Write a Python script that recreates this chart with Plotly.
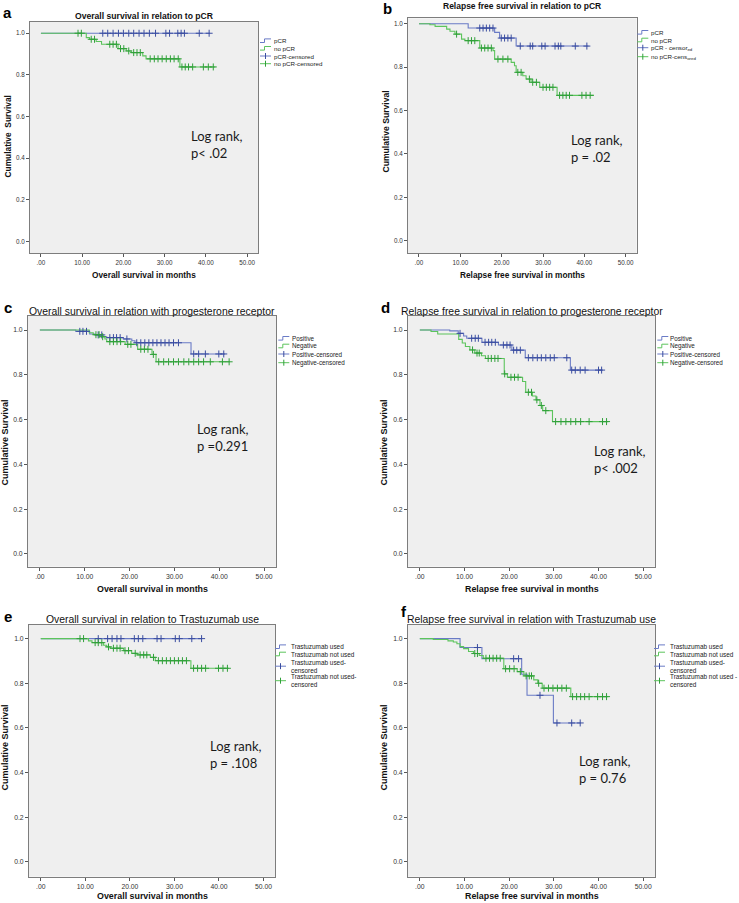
import numpy as np
import plotly.graph_objects as go

W, H = 739, 903

# ---------------- data ----------------
X_TICKS = [0, 10, 20, 30, 40, 50]
X_TICK_LABELS = [".00", "10.00", "20.00", "30.00", "40.00", "50.00"]
Y_TICKS = [0, 0.2, 0.4, 0.6, 0.8, 1.0]
Y_TICK_LABELS = ["0.0", "0.2", "0.4", "0.6", "0.8", "1.0"]

# (a) Overall survival vs pCR
A_PCR_T = []
A_PCR_S = []
A_PCR_CENS = [15.0, 16.2, 17.5, 18.8, 20.0, 21.3, 22.5, 23.8, 25.0, 26.3, 27.8,
              30.3, 31.2, 33.2, 34.0, 34.8, 38.4, 40.8]
A_PCR_END = 41.0
A_NOPCR_T = [11.0, 11.8, 13.4, 14.7, 18.7, 20.7, 21.9, 24.7, 25.5, 33.7]
A_NOPCR_S = [0.979, 0.971, 0.960, 0.947, 0.926, 0.915, 0.907, 0.891, 0.877, 0.838]
A_NOPCR_CENS = [9.0, 9.8, 12.2, 13.0, 16.7, 17.5, 18.3, 19.3, 20.1, 21.3, 22.5, 23.3,
                24.1, 26.5, 27.5, 28.4, 29.4, 30.4, 31.4, 32.3, 33.3, 34.2, 35.0,
                35.8, 36.8, 39.4, 40.6, 41.8]
A_NOPCR_END = 42.3

# (b) Relapse free survival vs pCR
B_PCR_T = [11.9, 18.3, 19.5, 23.5]
B_PCR_S = [0.980, 0.960, 0.934, 0.897]
B_PCR_CENS = [14.7, 15.5, 16.3, 17.1, 17.9, 19.9, 20.7, 21.5, 22.3, 24.5, 26.9, 27.5,
              29.7, 30.5, 32.9, 33.7, 34.3, 37.8, 40.6]
B_PCR_END = 41.0
B_NOPCR_T = [2.65, 3.9, 6.7, 7.5, 8.7, 10.3, 11.1, 14.7, 17.9, 18.3, 22.3, 23.1, 23.5,
             25.1, 25.9, 27.1, 29.2, 33.4]
B_NOPCR_S = [0.995, 0.988, 0.975, 0.965, 0.952, 0.929, 0.922, 0.888, 0.876, 0.837,
             0.822, 0.806, 0.776, 0.760, 0.745, 0.730, 0.707, 0.670]
B_NOPCR_CENS = [9.1, 11.9, 12.7, 13.5, 15.1, 15.9, 16.7, 17.5, 19.1, 20.3, 21.5, 23.9,
                24.7, 26.7, 27.5, 28.4, 30.0, 30.8, 31.6, 32.4, 34.0, 34.8, 35.6,
                36.4, 39.4, 40.4, 41.4]
B_NOPCR_END = 42.3

# (c) Overall survival vs progesterone receptor
C_POS_T = [8.0, 11.1, 12.3, 14.1, 14.9, 18.6, 20.5, 21.2, 33.7]
C_POS_S = [0.994, 0.982, 0.978, 0.970, 0.966, 0.960, 0.952, 0.943, 0.893]
C_POS_CENS = [8.9, 9.6, 10.4, 13.0, 13.8, 15.6, 16.4, 17.1, 17.9, 19.4, 21.6, 22.5,
              23.4, 24.3, 25.2, 26.1, 27.0, 27.9, 28.8, 29.8, 30.9, 34.3, 35.4,
              36.9, 39.9, 41.0]
C_POS_END = 41.3
C_NEG_T = [11.0, 11.9, 13.4, 14.5, 14.9, 19.0, 21.8, 25.0, 25.9]
C_NEG_S = [0.988, 0.979, 0.970, 0.960, 0.948, 0.936, 0.914, 0.891, 0.858]
C_NEG_CENS = [12.5, 13.2, 14.0, 15.6, 16.4, 17.2, 18.0, 19.6, 20.3, 22.5, 23.3, 24.1,
              25.3, 26.5, 27.6, 28.7, 29.8, 30.9, 32.1, 33.2, 34.3, 35.4, 36.5,
              38.0, 40.7, 42.2]
C_NEG_END = 42.3

# (d) Relapse free survival vs progesterone receptor
D_POS_T = [6.7, 8.6, 9.8, 10.5, 13.9, 17.6, 20.6, 23.6, 33.7]
D_POS_S = [0.996, 0.985, 0.973, 0.963, 0.945, 0.933, 0.910, 0.876, 0.821]
D_POS_CENS = [9.0, 11.6, 12.4, 13.1, 14.6, 15.4, 16.1, 16.9, 18.7, 19.5, 20.2, 21.0,
              21.7, 22.5, 24.3, 25.3, 26.3, 27.2, 28.2, 29.2, 30.1, 32.9, 34.0,
              34.8, 35.9, 37.0, 40.0, 40.7]
D_POS_END = 41.0
D_NEG_T = [2.5, 4.0, 8.7, 9.5, 10.2, 11.2, 12.3, 13.8, 14.7, 18.9, 19.6, 23.0, 23.7,
           25.2, 26.0, 26.9, 27.5, 29.7]
D_NEG_S = [0.993, 0.982, 0.958, 0.942, 0.926, 0.911, 0.897, 0.885, 0.873, 0.804,
           0.789, 0.770, 0.722, 0.705, 0.688, 0.663, 0.640, 0.591]
D_NEG_CENS = [11.8, 12.8, 13.3, 15.3, 16.0, 16.8, 17.5, 19.0, 20.4, 21.2, 22.0, 24.3,
              25.0, 26.2, 27.2, 28.2, 30.4, 31.6, 32.7, 33.8, 34.9, 36.0, 37.9,
              40.9, 41.8]
D_NEG_END = 42.2

# (e) Overall survival vs Trastuzumab use
E_USED_T = []
E_USED_S = []
E_USED_CENS = [12.9, 15.0, 16.0, 17.1, 18.0, 21.0, 21.9, 22.9, 26.1, 27.0, 30.2, 31.1,
               33.9, 36.1]
E_USED_END = 36.1
E_NOT_T = [10.7, 11.5, 14.1, 14.8, 15.6, 18.6, 20.4, 21.6, 24.6, 25.7, 33.7]
E_NOT_S = [0.990, 0.982, 0.970, 0.963, 0.957, 0.946, 0.934, 0.927, 0.916, 0.901, 0.867]
E_NOT_CENS = [8.8, 9.6, 12.2, 12.9, 13.7, 15.2, 16.3, 17.1, 17.8, 18.9, 19.7, 21.2,
              22.3, 23.1, 23.8, 25.3, 26.4, 27.3, 28.2, 29.1, 30.0, 30.9, 31.8,
              32.7, 34.3, 35.2, 36.1, 37.0, 39.9, 40.9, 41.9]
E_NOT_END = 42.2

# (f) Relapse free survival vs Trastuzumab use
F_USED_T = [9.0, 13.9, 22.8, 24.0, 29.9]
F_USED_S = [0.960, 0.910, 0.840, 0.746, 0.622]
F_USED_CENS = [12.9, 21.0, 22.1, 26.9, 30.7, 34.0, 35.9]
F_USED_END = 36.0
F_NOT_T = [3.0, 6.3, 7.5, 8.3, 9.0, 9.8, 10.9, 12.0, 13.3, 14.2, 18.8, 21.8, 23.3,
           25.5, 26.4, 27.4, 33.8]
F_NOT_S = [0.996, 0.990, 0.985, 0.977, 0.964, 0.955, 0.942, 0.933, 0.924, 0.912,
           0.865, 0.852, 0.833, 0.815, 0.800, 0.778, 0.740]
F_NOT_CENS = [12.3, 12.9, 14.8, 15.6, 16.4, 17.2, 18.0, 19.2, 20.1, 21.1, 22.5, 23.8,
              24.5, 25.0, 26.6, 27.8, 28.8, 29.8, 30.8, 31.8, 32.8, 34.2, 35.1,
              36.0, 36.9, 37.9, 39.8, 40.9, 41.8]
F_NOT_END = 42.2

# ---------------- styling ----------------
BLUE_LINE = "#6a7bc6"
BLUE_MARK = "#3a4da0"
GREEN_LINE = "#5cc45c"
GREEN_MARK = "#30a03a"
FONT = "Liberation Sans, Arial, sans-serif"
LOGFONT = "Lato, Open Sans, sans-serif"


def px(x):
    return x / W


def py(y):
    return 1 - y / H


def step_xy(times, surv, end):
    xs = [0.0] + list(times) + [end]
    ys = [1.0] + list(surv) + [surv[-1] if len(surv) else 1.0]
    return xs, ys


def surv_at(times, surv, t_list):
    times = np.asarray(times, dtype=float)
    out = []
    for t in t_list:
        i = np.searchsorted(times, t, side="right")
        out.append(1.0 if i == 0 else surv[i - 1])
    return out


panels = [
    dict(letter="a", box=(30, 22, 258, 253), yr=(-0.056, 1.054),
         title="<b>Overall survival in relation to pCR</b>", tsize=8.6, ty=15.7,
         ytitle="<b>Cumulative  Survival</b>", yt=(7.5, 137), ysz=8.4,
         xtitle="<b>Overall survival in months</b>", xt=275.3, xsz=8.3, tick=6.3,
         groups=[(A_PCR_T, A_PCR_S, A_PCR_CENS, A_PCR_END),
                 (A_NOPCR_T, A_NOPCR_S, A_NOPCR_CENS, A_NOPCR_END)],
         leg=["pCR", "no pCR", "pCR-censored", "no pCR-censored"],
         legx=(260, 272), legy=[40.7, 48.3, 56, 63.7], lsz=6.2,
         log="Log rank,<br>p< .02", logpos=(189, 144.3), lpos=(1, 13)),
    dict(letter="b", box=(408, 18.3, 636.7, 253.3), yr=(-0.058, 1.025),
         title="<b>Relapse free survival in relation to pCR</b>", tsize=8.5, ty=6,
         ytitle="<b>Cumulative Survival</b>", yt=(385.5, 132), ysz=8.6,
         xtitle="<b>Relapse free survival in months</b>", xt=275.3, xsz=8.3, tick=6.3,
         groups=[(B_PCR_T, B_PCR_S, B_PCR_CENS, B_PCR_END),
                 (B_NOPCR_T, B_NOPCR_S, B_NOPCR_CENS, B_NOPCR_END)],
         leg=["pCR", "no pCR", "pCR - censor<sub>ed</sub>", "no pCR-cens<sub>ored</sub>"],
         legx=(637.3, 649), legy=[32.3, 40, 47.7, 56.7], lsz=6.2,
         log="Log rank,<br>p = .02", logpos=(569, 148.7), lpos=(381, 9)),
    dict(letter="c", box=(28, 316, 276, 566.7), yr=(-0.057, 1.0625),
         title="Overall survival in relation with progesterone receptor", tsize=10.4, ty=311,
         ytitle="<b>Cumulative Survival</b>", yt=(4.5, 443), ysz=9,
         xtitle="<b>Overall survival in months</b>", xt=588.7, xsz=8.9, tick=6.8,
         groups=[(C_POS_T, C_POS_S, C_POS_CENS, C_POS_END),
                 (C_NEG_T, C_NEG_S, C_NEG_CENS, C_NEG_END)],
         leg=["Positive", "Negative", "Positive-censored", "Negative-censored"],
         legx=(278.3, 290), legy=[338.3, 346, 354, 362.7], lsz=6.3,
         log="Log rank,<br>p =0.291", logpos=(195, 437.3), lpos=(2, 307)),
    dict(letter="d", box=(408, 316, 655, 566.7), yr=(-0.057, 1.0625),
         title="Relapse free survival in relation to progesterone receptor", tsize=10.4, ty=311,
         ytitle="<b>Cumulative Survival</b>", yt=(383.5, 443), ysz=9,
         xtitle="<b>Relapse free survival in months</b>", xt=588.7, xsz=8.9, tick=6.8,
         groups=[(D_POS_T, D_POS_S, D_POS_CENS, D_POS_END),
                 (D_NEG_T, D_NEG_S, D_NEG_CENS, D_NEG_END)],
         leg=["Positive", "Negative", "Positive-censored", "Negative-censored"],
         legx=(657.3, 668.3), legy=[338.3, 346, 354, 362.7], lsz=6.3,
         log="Log rank,<br>p< .002", logpos=(591.7, 459.7), lpos=(379, 307)),
    dict(letter="e", box=(29, 625, 275.3, 876.7), yr=(-0.067, 1.061),
         title="Overall survival in relation to Trastuzumab use", tsize=10.4, ty=619,
         ytitle="<b>Cumulative Survival</b>", yt=(4.5, 748), ysz=9,
         xtitle="<b>Overall survival in months</b>", xt=896.0, xsz=8.9, tick=6.8,
         groups=[(E_USED_T, E_USED_S, E_USED_CENS, E_USED_END),
                 (E_NOT_T, E_NOT_S, E_NOT_CENS, E_NOT_END)],
         leg=["Trastuzumab used", "Trastuzumab not used",
              "Trastuzumab used-<br>censored", "Trastuzumab not used-<br>censored"],
         legx=(275, 289.3), legy=[646.7, 654, 666.2, 680.7], lsz=6.4,
         log="Log rank,<br>p = .108", logpos=(208.3, 754.7), lpos=(2, 616)),
    dict(letter="f", box=(408, 625, 655, 876.7), yr=(-0.067, 1.061),
         title="Relapse free survival in relation with Trastuzumab use", tsize=10.4, ty=619,
         ytitle="<b>Cumulative Survival</b>", yt=(383.5, 748), ysz=9,
         xtitle="<b>Relapse free survival in months</b>", xt=896.0, xsz=8.9, tick=6.8,
         groups=[(F_USED_T, F_USED_S, F_USED_CENS, F_USED_END),
                 (F_NOT_T, F_NOT_S, F_NOT_CENS, F_NOT_END)],
         leg=["Trastuzumab used", "Trastuzumab not used",
              "Trastuzumab used-<br>censored", "Trastuzumab not used -<br>censored"],
         legx=(654, 668.3), legy=[646.7, 654, 666.2, 680.7], lsz=6.4,
         log="Log rank,<br>p = 0.76", logpos=(577.3, 769.7), lpos=(399, 611)),
]

fig = go.Figure()
layout = dict(width=W, height=H, autosize=False, margin=dict(l=0, r=0, t=0, b=0),
              paper_bgcolor="white", plot_bgcolor="#efefef", showlegend=False)
annotations = []
shapes = []

for k, p in enumerate(panels, start=1):
    x0, y0, x1, y1 = p["box"]
    xa = "x" if k == 1 else f"x{k}"
    ya = "y" if k == 1 else f"y{k}"
    axis_common = dict(showline=True, mirror=True, linecolor="#7d7d7d", linewidth=1,
                       ticks="outside", ticklen=3, tickcolor="#555555", tickwidth=1,
                       showgrid=False, zeroline=False,
                       tickfont=dict(family=FONT, size=p["tick"], color="#333333"))
    layout["xaxis" if k == 1 else f"xaxis{k}"] = dict(
        domain=[px(x0), px(x1)], range=[-2.65, 52.65], anchor=ya,
        tickvals=X_TICKS, ticktext=X_TICK_LABELS, **axis_common)
    layout["yaxis" if k == 1 else f"yaxis{k}"] = dict(
        domain=[py(y1), py(y0)], range=list(p["yr"]), anchor=xa,
        tickvals=Y_TICKS, ticktext=Y_TICK_LABELS, **axis_common)

    line_cols = [BLUE_LINE, GREEN_LINE]
    mark_cols = [BLUE_MARK, GREEN_MARK]
    for (t, s, c, end), lc in zip(p["groups"], line_cols):
        xs, ys = step_xy(t, s, end)
        fig.add_trace(go.Scatter(x=xs, y=ys, mode="lines", line=dict(color=lc, width=1.1, shape="hv"),
                                 xaxis=xa, yaxis=ya, hoverinfo="skip"))
    for (t, s, c, end), mc in zip(p["groups"], mark_cols):
        fig.add_trace(go.Scatter(x=c, y=surv_at(t, s, c), mode="markers",
                                 marker=dict(symbol="cross-thin", size=5, color=mc,
                                             line=dict(color=mc, width=1)),
                                 xaxis=xa, yaxis=ya, hoverinfo="skip"))

    cx = (x0 + x1) / 2
    annotations.append(dict(text=p["title"], x=px(cx), y=py(p["ty"]), xref="paper", yref="paper",
                            xanchor="center", yanchor="middle", showarrow=False,
                            font=dict(family=FONT, size=p["tsize"], color="#111111")))
    annotations.append(dict(text=f"<b>{p['letter']}</b>", x=px(p["lpos"][0]), y=py(p["lpos"][1]),
                            xref="paper", yref="paper", xanchor="left", yanchor="middle",
                            showarrow=False, font=dict(family=FONT, size=15, color="#000000")))
    annotations.append(dict(text=p["ytitle"], x=px(p["yt"][0]), y=py(p["yt"][1]), xref="paper",
                            yref="paper", xanchor="center", yanchor="middle", textangle=-90,
                            showarrow=False, font=dict(family=FONT, size=p["ysz"], color="#111111")))
    annotations.append(dict(text=p["xtitle"], x=px(cx), y=py(p["xt"]), xref="paper", yref="paper",
                            xanchor="center", yanchor="middle", showarrow=False,
                            font=dict(family=FONT, size=p["xsz"], color="#111111")))
    annotations.append(dict(text=p["log"], x=px(p["logpos"][0]), y=py(p["logpos"][1]),
                            xref="paper", yref="paper", xanchor="left", yanchor="middle",
                            align="left", showarrow=False,
                            font=dict(family=LOGFONT, size=13, color="#1a1a1a")))
    ix, tx = p["legx"]
    cols = [BLUE_LINE, GREEN_LINE, BLUE_MARK, GREEN_MARK]
    for i, (lab, ly) in enumerate(zip(p["leg"], p["legy"])):
        col = cols[i]
        if i < 2:
            path = (f"M {px(ix)},{py(ly + 1.8)} L {px(ix + 4.5)},{py(ly + 1.8)} "
                    f"L {px(ix + 4.5)},{py(ly - 1.8)} L {px(ix + 11)},{py(ly - 1.8)}")
            shapes.append(dict(type="path", path=path, xref="paper", yref="paper",
                               line=dict(color=col, width=1)))
        else:
            shapes.append(dict(type="line", x0=px(ix), x1=px(ix + 11), y0=py(ly), y1=py(ly),
                               xref="paper", yref="paper",
                               line=dict(color=[BLUE_LINE, GREEN_LINE][i - 2], width=1)))
            shapes.append(dict(type="line", x0=px(ix + 5.5), x1=px(ix + 5.5), y0=py(ly - 3),
                               y1=py(ly + 3), xref="paper", yref="paper", line=dict(color=col, width=1)))
        annotations.append(dict(text=lab, x=px(tx), y=py(ly), xref="paper", yref="paper",
                                xanchor="left", yanchor="middle", align="left", showarrow=False,
                                font=dict(family=FONT, size=p["lsz"], color="#222222")))

layout["annotations"] = annotations
layout["shapes"] = shapes
fig.update_layout(**layout)
fig.write_html("out.html", config={"displayModeBar": False},
               post_script="document.body.style.margin='0';document.body.style.overflow='hidden';")
